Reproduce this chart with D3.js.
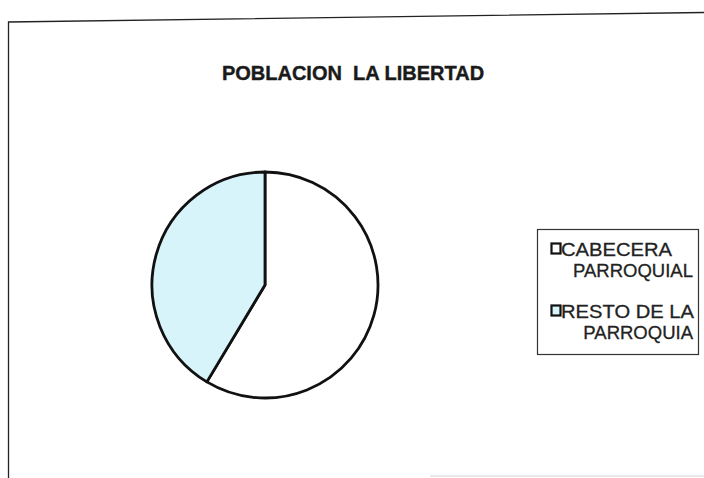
<!DOCTYPE html>
<html>
<head>
<meta charset="utf-8">
<script src="https://cdn.jsdelivr.net/npm/d3@7"></script>
<style>
  html, body { margin: 0; padding: 0; background: #fff; }
  svg { display: block; }
  text { white-space: pre; }
</style>
</head>
<body>
<svg id="chart" width="704" height="478"></svg>
<script>
// Population of La Libertad parish, split by zone (percent share)
const categories = ["CABECERA PARROQUIAL", "RESTO DE LA PARROQUIA"];
const legendLines = [["CABECERA", "PARROQUIAL"], ["RESTO DE LA", "PARROQUIA"]];
const values = [58.6, 41.4];
const colors = ["#ffffff", "#d7f4fb"];
const title = "POBLACION  LA LIBERTAD";

const svg = d3.select("#chart");
const font = "Arial, 'Liberation Sans', Helvetica, sans-serif";

// Chart area frame (open to the right and bottom)
svg.append("path")
  .attr("d", "M8.5,478 L8.5,22 L704,12.5")
  .attr("fill", "none")
  .attr("stroke", "#222")
  .attr("stroke-width", 1.3);

svg.append("line")
  .attr("x1", 430).attr("x2", 704)
  .attr("y1", 476).attr("y2", 476)
  .attr("stroke", "#e2e2e2").attr("stroke-width", 1.5);

// Title
svg.append("text")
  .attr("x", 353).attr("y", 80)
  .attr("text-anchor", "middle")
  .attr("font-family", font)
  .attr("font-weight", "bold")
  .attr("font-size", 20)
  .attr("fill", "#1a1a1a")
  .attr("stroke", "#1a1a1a")
  .attr("stroke-width", 0.4)
  .text(title);

// Pie
const cx = 265, cy = 285, r = 113;
const pie = d3.pie().sort(null).startAngle(0).endAngle(2 * Math.PI)(values);
const arc = d3.arc().innerRadius(0).outerRadius(r);

const g = svg.append("g").attr("transform", `translate(${cx},${cy})`);
g.selectAll("path.slice")
  .data(pie)
  .join("path")
  .attr("class", "slice")
  .attr("d", arc)
  .attr("fill", (d, i) => colors[i])
  .attr("stroke", "#111")
  .attr("stroke-width", 2.8)
  .attr("stroke-linejoin", "round");

// Legend
const legend = svg.append("g");
legend.append("rect")
  .attr("x", 537.5).attr("y", 229.5)
  .attr("width", 161).attr("height", 125)
  .attr("fill", "#fff")
  .attr("stroke", "#333")
  .attr("stroke-width", 1.2);

const rowY = [256, 318];
const items = legend.selectAll("g.item")
  .data(categories)
  .join("g")
  .attr("class", "item");

items.append("rect")
  .attr("x", 551.5)
  .attr("y", (d, i) => rowY[i] - 12.5)
  .attr("width", 9).attr("height", 10)
  .attr("fill", (d, i) => colors[i])
  .attr("stroke", "#111")
  .attr("stroke-width", 2.2);

items.append("text")
  .attr("x", 561)
  .attr("y", (d, i) => rowY[i])
  .attr("font-family", font)
  .attr("font-size", 18.5)
  .attr("fill", "#222")
  .attr("stroke", "#222")
  .attr("stroke-width", 0.3)
  .attr("textLength", (d, i) => i === 0 ? 111 : 133)
  .attr("lengthAdjust", "spacingAndGlyphs")
  .text((d, i) => legendLines[i][0]);

items.append("text")
  .attr("x", 693)
  .attr("y", (d, i) => rowY[i] + 21)
  .attr("text-anchor", "end")
  .attr("font-family", font)
  .attr("font-size", 18.5)
  .attr("fill", "#222")
  .attr("stroke", "#222")
  .attr("stroke-width", 0.3)
  .text((d, i) => legendLines[i][1]);
</script>
</body>
</html>
